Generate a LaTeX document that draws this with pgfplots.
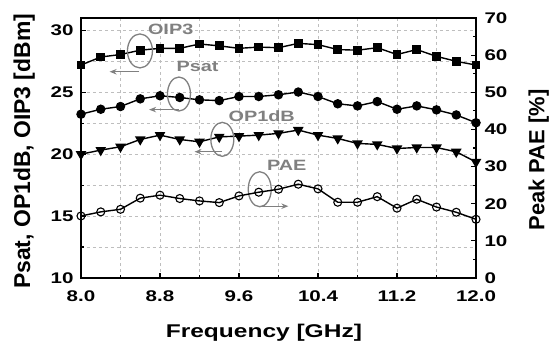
\documentclass[border=0pt]{standalone}
\usepackage{pgfplots}
\pgfplotsset{compat=1.18}
\usepackage{fontspec}
\setmainfont{Liberation Sans}
\newfontfamily\wfont[FakeStretch=1.33]{Liberation Sans}
\usetikzlibrary{arrows.meta}
\definecolor{anno}{RGB}{128,128,128}
\definecolor{gridc}{RGB}{190,190,190}
\pgfplotstableread{
f oip3 psat op1 pae
8.0 27.2 23.23 20.0 16.7
8.2 27.85 23.63 20.33 17.8
8.4 28.05 23.85 20.6 18.5
8.6 28.4 24.47 21.19 21.5
8.8 28.55 24.72 21.54 22.3
9.0 28.55 24.58 21.19 21.4
9.2 28.9 24.39 21.0 20.75
9.4 28.75 24.33 21.4 20.3
9.6 28.55 24.66 21.46 22.1
9.8 28.65 24.66 21.54 23.1
10.0 28.6 24.8 21.68 23.9
10.2 28.95 25.02 21.95 25.25
10.4 28.85 24.66 21.54 24.0
10.6 28.45 24.07 21.27 20.4
10.8 28.4 23.9 20.87 20.4
11.0 28.6 24.25 20.79 21.9
11.2 28.05 23.63 20.46 18.8
11.4 28.45 23.9 20.54 21.2
11.6 27.9 23.58 20.54 19.1
11.8 27.5 23.17 20.19 17.7
12.0 27.2 22.54 19.37 15.8
}\datatable
\pgfplotsset{
  common/.style={
    scale only axis, width=395bp, height=260bp,
    xmin=8, xmax=12,
    /pgf/number format/assume math mode=true,
    tick align=inside,
    major tick length=5bp, minor tick length=3bp,
    every tick/.style={black, line width=1.1bp},
    ticklabel style={font=\wfont\bfseries\fontsize{15.5}{15.5}\selectfont},
    axis line style={line width=1.6bp},
  },
  dl/.style={black, line width=1.4bp},
}
\begin{document}
\begin{tikzpicture}
\begin{axis}[common,
  ymin=10, ymax=31,
  xtick={8,8.8,9.6,10.4,11.2,12},
  xticklabels={8.0,8.8,9.6,10.4,11.2,12.0},
  minor xtick={8.4,9.2,10,10.8,11.6},
  ytick={10,15,20,25,30},
  minor ytick={12.5,17.5,22.5,27.5},
  xtick pos=bottom, ytick pos=left,
  grid=both,
  major grid style={dashed, gridc, line width=0.6bp},
  minor grid style={dashed, gridc, line width=0.6bp},
  xticklabel style={yshift=-9bp},
  yticklabel style={xshift=-4bp},
  xlabel={\wfont\bfseries\fontsize{18.5}{18.5}\selectfont Frequency [GHz]},
  xlabel style={at={(axis description cs:0.463,-0.212)}, anchor=center},
  ylabel={\bfseries\fontsize{23}{23}\selectfont Psat, OP1dB, OIP3 [dBm]},
  ylabel style={at={(axis description cs:-0.144,0.487)}, anchor=center, rotate=0},
]
\addplot[dl, mark=square*, mark size=3.7bp, mark options={fill=black}] table[x=f,y=oip3] {\datatable};
\addplot[dl, mark=*, mark size=4bp, mark options={fill=black}] table[x=f,y=psat] {\datatable};
\addplot[dl, mark=triangle*, mark size=4.8bp, mark options={fill=black, rotate=180}] table[x=f,y=op1] {\datatable};
% annotations
\draw[anno, line width=1.3bp] (axis cs:8.597,28.34) ellipse [x radius=12.5bp, y radius=17bp];
\draw[anno, line width=1.3bp, -{Stealth[length=7bp,width=5.5bp]}] (axis cs:8.59,26.66) -- (axis cs:8.29,26.66);
\node[anno, font=\wfont\bfseries\fontsize{15}{15}\selectfont] at (axis cs:8.908,30.1) {OIP3};
\draw[anno, line width=1.3bp] (axis cs:8.992,24.86) ellipse [x radius=11.5bp, y radius=17bp];
\draw[anno, line width=1.3bp, -{Stealth[length=7bp,width=5.5bp]}] (axis cs:8.99,23.6) -- (axis cs:8.69,23.6);
\node[anno, font=\wfont\bfseries\fontsize{15}{15}\selectfont] at (axis cs:9.18,27.07) {Psat};
\draw[anno, line width=1.3bp] (axis cs:9.431,21.2) ellipse [x radius=11.5bp, y radius=17bp];
\draw[anno, line width=1.3bp, -{Stealth[length=7bp,width=5.5bp]}] (axis cs:9.43,20.2) -- (axis cs:9.15,20.2);
\node[anno, font=\wfont\bfseries\fontsize{15}{15}\selectfont] at (axis cs:9.83,23.09) {OP1dB};
\draw[anno, line width=1.3bp] (axis cs:9.81,17.17) ellipse [x radius=11.5bp, y radius=17.5bp];
\draw[anno, line width=1.3bp, -{Stealth[length=7bp,width=5.5bp]}] (axis cs:9.81,15.8) -- (axis cs:10.1,15.8);
\node[anno, font=\wfont\bfseries\fontsize{15}{15}\selectfont] at (axis cs:10.083,19.13) {PAE};
\end{axis}
\begin{axis}[common,
  ymin=0, ymax=70,
  axis x line=none,
  axis y line*=right,
  ytick={0,10,...,70},
  minor ytick={5,15,...,65},
  yticklabel style={xshift=5bp},
  ylabel={\bfseries\fontsize{22}{22}\selectfont Peak PAE [\%]},
  ylabel style={at={(axis description cs:1.159,0.454)}, anchor=center, rotate=0},
]
\addplot[dl, mark=o, mark size=4bp, mark options={fill=white, line width=1.1bp}] table[x=f,y=pae] {\datatable};
\end{axis}
\pgfresetboundingbox
\useasboundingbox (-81bp,-67bp) rectangle (469bp,278bp);
\end{tikzpicture}
\end{document}
